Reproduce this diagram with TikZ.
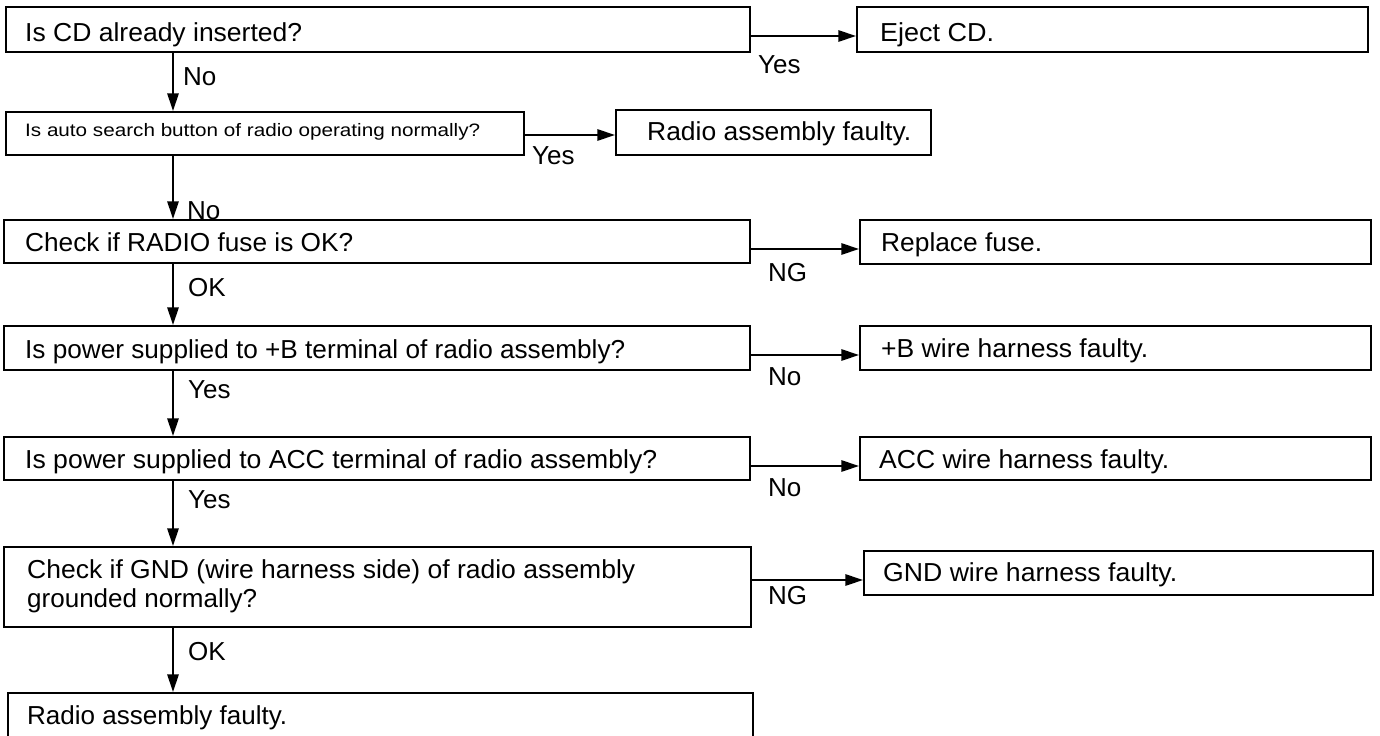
\documentclass[tikz,border=0pt]{standalone}
\usepackage{fontspec}
\setmainfont{Liberation Sans}
\usepackage{graphicx}
\usetikzlibrary{arrows.meta}
\newcommand\fittext[3]{\resizebox{#1}{\height}{\fontsize{#2}{#2}\selectfont #3}}
\begin{document}
\begin{tikzpicture}[x=1bp,y=-1bp,
  box/.style={draw=black, line width=1.4bp, rectangle, inner sep=0},
  txt/.style={anchor=base west, inner sep=0},
  lbl/.style={anchor=base west, inner sep=0, font=\fontsize{26bp}{28bp}\selectfont},
  arr/.style={line width=2.8bp, -{Triangle[length=18bp,width=11bp]}}]
\useasboundingbox (0,0) rectangle (1380,735);

% boxes
\node[box, minimum width=744bp, minimum height=45bp] (b1) at (378,29.5) {};
\node[box, minimum width=511bp, minimum height=45bp] (e1) at (1112.5,29.5) {};
\node[box, minimum width=518bp, minimum height=43bp] (b2) at (265,133.5) {};
\node[box, minimum width=315bp, minimum height=45bp] (r2) at (773.5,132.5) {};
\node[box, minimum width=746bp, minimum height=43bp] (b3) at (377,241.5) {};
\node[box, minimum width=511bp, minimum height=44bp] (f3) at (1115.5,242) {};
\node[box, minimum width=746bp, minimum height=44bp] (b4) at (377,348) {};
\node[box, minimum width=511bp, minimum height=44bp] (f4) at (1115.5,348) {};
\node[box, minimum width=746bp, minimum height=43bp] (b5) at (377,458.5) {};
\node[box, minimum width=511bp, minimum height=43bp] (f5) at (1115.5,458.5) {};
\node[box, minimum width=747bp, minimum height=80bp] (b6) at (377.5,587) {};
\node[box, minimum width=509bp, minimum height=44bp] (f6) at (1118.5,573) {};
\node[box, minimum width=745bp, minimum height=47bp] (b7) at (380.5,716.5) {};

% texts
\node[txt] (t1) at (25,42) {\fittext{277bp}{26bp}{Is CD already inserted?}};
\node[txt] (te1) at (880,42) {\fittext{114bp}{26bp}{Eject CD.}};
\node[txt] (t2) at (25,137) {\fittext{455bp}{18bp}{Is auto search button of radio operating normally?}};
\node[txt] (tr2) at (647,141) {\fittext{264bp}{26bp}{Radio assembly faulty.}};
\node[txt] (t3) at (25,251) {\fittext{328bp}{26bp}{Check if RADIO fuse is OK?}};
\node[txt] (tf3) at (881,251) {\fittext{161bp}{26bp}{Replace fuse.}};
\node[txt] (t4) at (25,358) {\fittext{600bp}{26bp}{Is power supplied to +B terminal of radio assembly?}};
\node[txt] (tf4) at (881,357) {\fittext{267bp}{26bp}{+B wire harness faulty.}};
\node[txt] (t5) at (25,468) {\fittext{632bp}{26bp}{Is power supplied to ACC terminal of radio assembly?}};
\node[txt] (tf5) at (879,468) {\fittext{290bp}{26bp}{ACC wire harness faulty.}};
\node[txt] (t6a) at (27,578) {\fittext{608bp}{26bp}{Check if GND (wire harness side) of radio assembly}};
\node[txt] (t6b) at (27,607) {\fittext{230bp}{26bp}{grounded normally?}};
\node[txt] (tf6) at (883,581) {\fittext{294bp}{26bp}{GND wire harness faulty.}};
\node[txt] (t7) at (27,724) {\fittext{260bp}{26bp}{Radio assembly faulty.}};

% connectors
\draw[arr] (b1.south -| 173,0) -- (b2.north -| 173,0);
\draw[arr] (b2.south -| 173,0) -- (b3.north -| 173,0);
\draw[arr] (b3.south -| 173,0) -- (b4.north -| 173,0);
\draw[arr] (b4.south -| 173,0) -- (b5.north -| 173,0);
\draw[arr] (b5.south -| 173,0) -- (b6.north -| 173,0);
\draw[arr] (b6.south -| 173,0) -- (b7.north -| 173,0);
\draw[arr] (b1.east |- 0,36) -- (e1.west |- 0,36);
\draw[arr] (b2.east |- 0,135) -- (r2.west |- 0,135);
\draw[arr] (b3.east |- 0,249) -- (f3.west |- 0,249);
\draw[arr] (b4.east |- 0,355) -- (f4.west |- 0,355);
\draw[arr] (b5.east |- 0,466) -- (f5.west |- 0,466);
\draw[arr] (b6.east |- 0,580) -- (f6.west |- 0,580);

% labels
\node[lbl] (l1) at (183,86) {No};
\node[lbl] (l2) at (758,74) {Yes};
\node[lbl] (l3) at (532,164) {Yes};
\node[lbl] (l4) at (187,219) {No};
\node[lbl] (l5) at (188,296) {OK};
\node[lbl] (l6) at (768,281) {NG};
\node[lbl] (l7) at (188,398) {Yes};
\node[lbl] (l8) at (768,385) {No};
\node[lbl] (l9) at (188,508) {Yes};
\node[lbl] (l10) at (768,496) {No};
\node[lbl] (l11) at (768,604) {NG};
\node[lbl] (l12) at (188,660) {OK};
\end{tikzpicture}
\end{document}
